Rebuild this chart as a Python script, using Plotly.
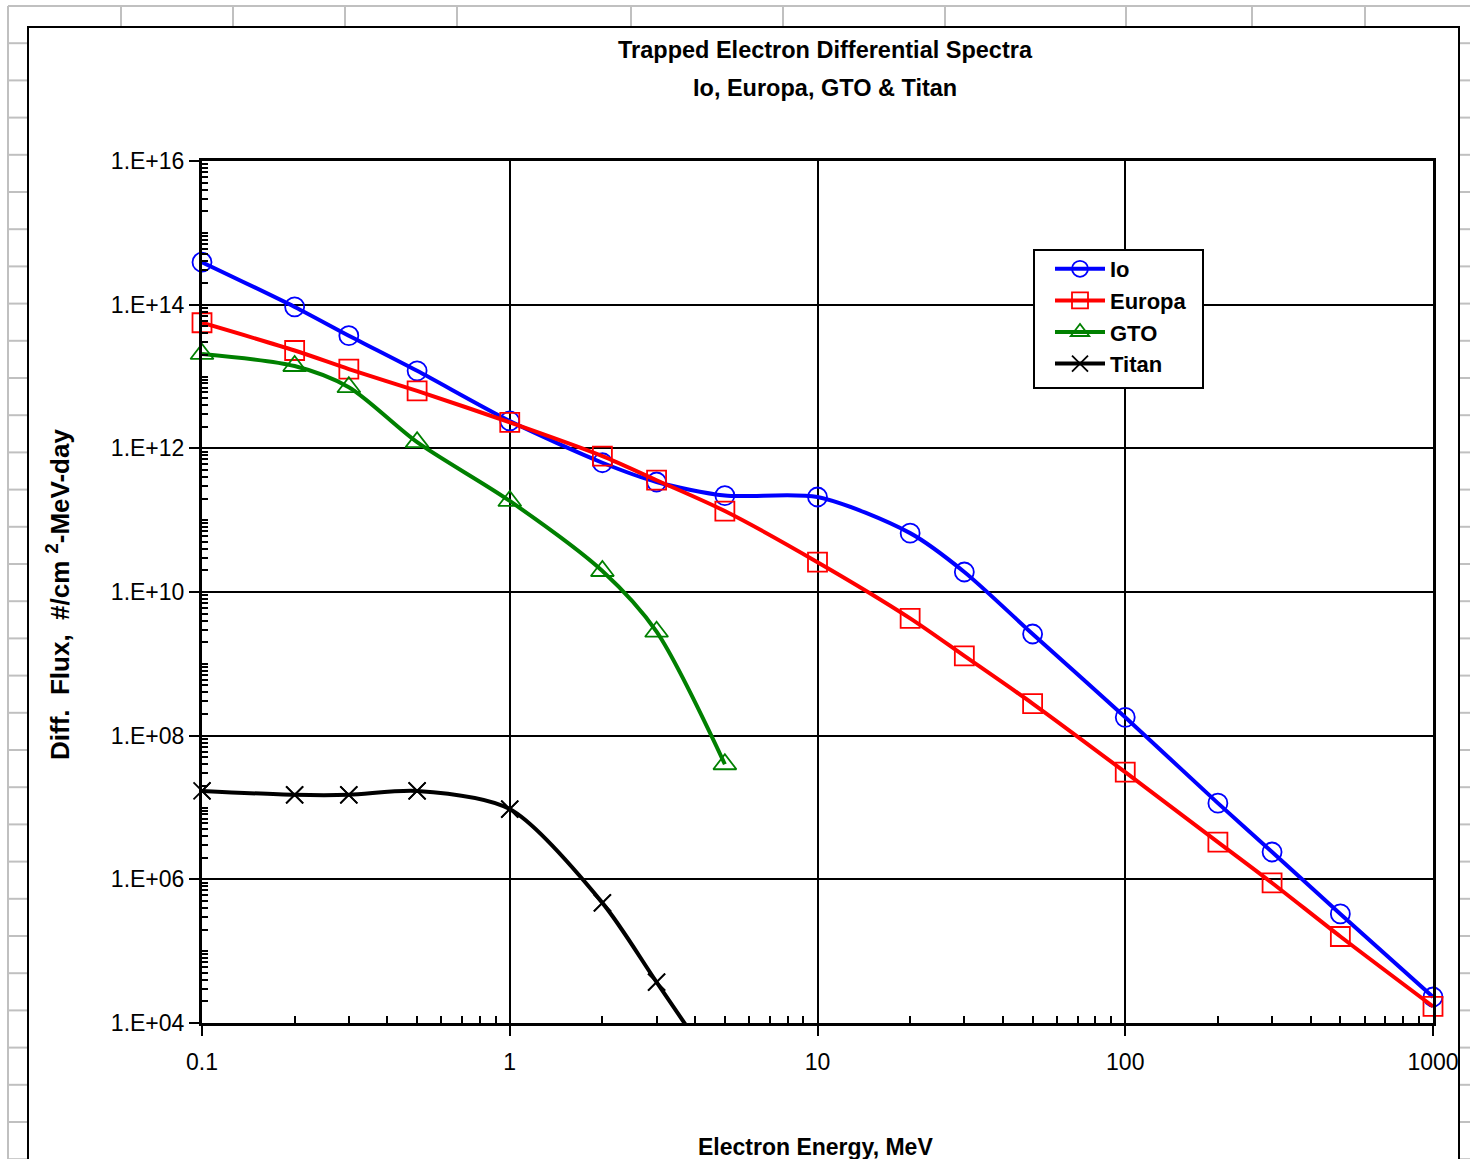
import plotly.graph_objects as go

# ---------------- data ----------------
energy = [0.1, 0.2, 0.3, 0.5, 1, 2, 3, 5, 10, 20, 30, 50, 100, 200, 300, 500, 1000]
io_flux = [3.9e14, 9.3e13, 3.7e13, 1.2e13, 2.4e12, 6.3e11, 3.4e11, 2.2e11, 2.1e11,
           6.6e10, 1.9e10, 2.6e9, 1.8e8, 1.15e7, 2.4e6, 3.3e5, 2.3e4]
europa_flux = [5.6e13, 2.3e13, 1.27e13, 6.3e12, 2.3e12, 7.8e11, 3.6e11, 1.34e11, 2.6e10,
               4.3e9, 1.29e9, 2.8e8, 3.1e7, 3.3e6, 8.9e5, 1.6e5, 1.7e4]
gto_energy = [0.1, 0.2, 0.3, 0.5, 1, 2, 3, 5]
gto_flux = [2.06e13, 1.4e13, 7.1e12, 1.22e12, 1.85e11, 1.96e10, 2.8e9, 4.0e7]
titan_energy = [0.1, 0.2, 0.3, 0.5, 1, 2, 3, 5]
titan_flux = [1.7e7, 1.5e7, 1.5e7, 1.7e7, 9.5e6, 4.7e5, 3.7e4, 1.5e3]

x_tick_vals = [0.1, 1, 10, 100, 1000]
x_tick_text = ["0.1", "1", "10", "100", "1000"]
y_tick_vals = [1e4, 1e6, 1e8, 1e10, 1e12, 1e14, 1e16]
y_tick_text = ["1.E+04", "1.E+06", "1.E+08", "1.E+10", "1.E+12", "1.E+14", "1.E+16"]

# ---------------- layout geometry ----------------
W, H = 1470, 1159
L, R, T, B = 202, 1433, 161, 1023
PW, PH = R - L, B - T
Y_MIN, Y_MAX = 1e4, 1e16

def px(xp):
    return (xp - L) / PW

def py(yp):
    return (B - yp) / PH

FONT = "Liberation Sans, Arial, sans-serif"

fig = go.Figure()

def add(name, xs, ys, color, symbol, size):
    fig.add_trace(go.Scatter(
        x=xs, y=ys, name=name, mode="lines+markers", cliponaxis=False,
        line=dict(color=color, width=4, shape="spline", smoothing=0.8),
        marker=dict(symbol=symbol, size=size, color=color,
                    line=dict(color=color, width=1.8)),
    ))

add("Io", energy, io_flux, "#0000FF", "circle-open", 19)
add("Europa", energy, europa_flux, "#FF0000", "square-open", 19)
add("GTO", gto_energy, gto_flux, "#008000", "triangle-up-open", 20)

# Titan: line clipped at the axis, markers (inside the range) not clipped
fig.add_trace(go.Scatter(
    x=titan_energy, y=titan_flux, name="Titan", mode="lines+markers", cliponaxis=True,
    line=dict(color="black", width=4, shape="spline", smoothing=0.8),
    marker=dict(symbol="x-thin-open", size=17, color="black",
                line=dict(color="black", width=1.8)),
))
vis = [(e, f) for e, f in zip(titan_energy, titan_flux) if Y_MIN <= f <= Y_MAX]
fig.add_trace(go.Scatter(
    x=[v[0] for v in vis], y=[v[1] for v in vis], mode="markers", cliponaxis=False,
    showlegend=False, hoverinfo="skip",
    marker=dict(symbol="x-thin-open", size=17, color="black",
                line=dict(color="black", width=1.8)),
))

x_minor = [k * 10 ** d for d in range(-1, 3) for k in range(2, 10)]
y_minor = [k * 10 ** d for d in range(4, 16) for k in range(1, 10) if not (k == 1 and d % 2 == 0)]

shapes = []
gray = "#C0C0C0"
row_y = [6 + 37.2 * k for k in range(0, 32)]
for i, yy in enumerate(row_y):
    if i == 0:
        shapes.append(dict(type="line", xref="paper", yref="paper",
                           x0=px(8), x1=px(1470), y0=py(yy), y1=py(yy),
                           line=dict(color=gray, width=2), layer="below"))
    else:
        shapes.append(dict(type="line", xref="paper", yref="paper",
                           x0=px(8), x1=px(28), y0=py(yy), y1=py(yy),
                           line=dict(color=gray, width=2), layer="below"))
        shapes.append(dict(type="line", xref="paper", yref="paper",
                           x0=px(1459), x1=px(1470), y0=py(yy), y1=py(yy),
                           line=dict(color=gray, width=2), layer="below"))
col_x = [8, 121, 233, 345, 457, 631, 783, 945, 1126, 1252, 1365]
for i, xx in enumerate(col_x):
    shapes.append(dict(type="line", xref="paper", yref="paper",
                       x0=px(xx), x1=px(xx), y0=py(6),
                       y1=py(1170) if i == 0 else py(27),
                       line=dict(color=gray, width=2), layer="below"))
# chart frame
shapes.append(dict(type="rect", xref="paper", yref="paper",
                   x0=px(28), x1=px(1459), y0=py(1180), y1=py(27),
                   line=dict(color="black", width=2), fillcolor="rgba(0,0,0,0)",
                   layer="below"))
# legend box
shapes.append(dict(type="rect", xref="paper", yref="paper",
                   x0=px(1034), x1=px(1203), y0=py(388), y1=py(250),
                   line=dict(color="black", width=2), fillcolor="white",
                   layer="above"))

annotations = [
    dict(text="<b>Trapped Electron Differential Spectra</b>", x=px(825), y=py(50),
         xanchor="center", yanchor="middle",
         xref="paper", yref="paper", showarrow=False,
         font=dict(family=FONT, size=23.5, color="black")),
    dict(text="<b>Io, Europa, GTO & Titan</b>", x=px(825), y=py(88),
         xanchor="center", yanchor="middle",
         xref="paper", yref="paper", showarrow=False,
         font=dict(family=FONT, size=23.5, color="black")),
    dict(text="<b>Diff.  Flux,  #/cm <sup>2</sup>-MeV-day</b>", x=px(58), y=py(595),
         xanchor="center", yanchor="middle",
         xref="paper", yref="paper", showarrow=False, textangle=-90,
         font=dict(family=FONT, size=26, color="black")),
    dict(text="<b>Electron Energy, MeV</b>", x=px(815), y=py(1147),
         xanchor="center", yanchor="middle",
         xref="paper", yref="paper", showarrow=False,
         font=dict(family=FONT, size=23, color="black")),
]

fig.update_layout(
    width=W, height=H,
    margin=dict(l=L, r=W - R, t=T, b=H - B, pad=0),
    paper_bgcolor="white", plot_bgcolor="white",
    showlegend=True,
    legend=dict(x=px(1050), y=py(248), xanchor="left", yanchor="top",
                bgcolor="rgba(0,0,0,0)", borderwidth=0,
                font=dict(family=FONT, size=22, color="black", weight="bold"),
                itemwidth=50, tracegroupgap=0),
    shapes=shapes,
    annotations=annotations,
)

fig.update_xaxes(
    type="log", range=[-1, 3],
    tickmode="array", tickvals=x_tick_vals, ticktext=x_tick_text,
    ticks="outside", ticklen=10, tickwidth=2, tickcolor="black",
    showline=True, linecolor="black", linewidth=3, mirror=True,
    showgrid=True, gridcolor="black", gridwidth=2,
    tickfont=dict(family=FONT, size=23, color="black"),
    ticklabelstandoff=6,
    minor=dict(tickmode="array", tickvals=x_minor, ticks="inside", ticklen=7,
               tickwidth=2, tickcolor="black", showgrid=False),
    zeroline=False,
)
fig.update_yaxes(
    type="log", range=[4, 16],
    tickmode="array", tickvals=y_tick_vals, ticktext=y_tick_text,
    ticks="outside", ticklen=10, tickwidth=2, tickcolor="black",
    showline=True, linecolor="black", linewidth=3, mirror=True,
    showgrid=True, gridcolor="black", gridwidth=2,
    tickfont=dict(family=FONT, size=23, color="black"),
    minor=dict(tickmode="array", tickvals=y_minor, ticks="inside", ticklen=6,
               tickwidth=2, tickcolor="black", showgrid=False),
    zeroline=False,
)

fig.write_html("out.html", config={"displayModeBar": False},
               post_script="document.body.style.margin='0';document.body.style.padding='0';")
